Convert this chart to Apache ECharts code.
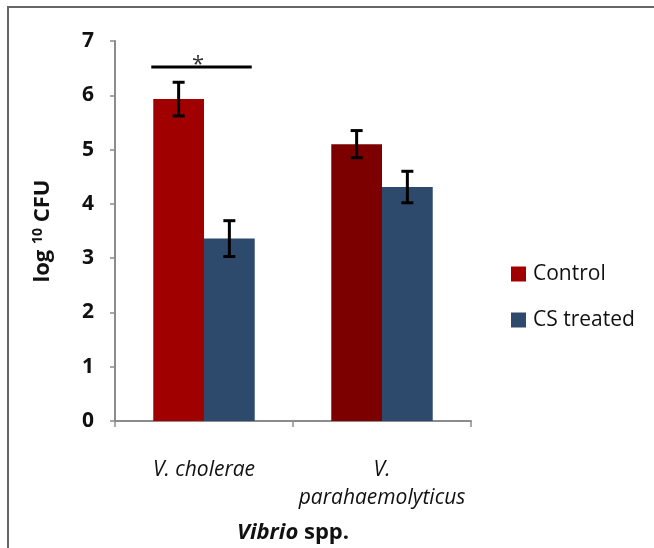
<!DOCTYPE html>
<html><head><meta charset="utf-8">
<script src="https://cdn.jsdelivr.net/npm/echarts@6/dist/echarts.min.js"></script>
<style>
html,body{margin:0;padding:0;background:#fff;overflow:hidden;width:654px;height:548px}
#c{width:654px;height:548px;position:absolute;left:0;top:0}
#frame{position:absolute;left:7px;top:6px;width:660px;height:560px;border-left:2px solid #666;border-top:2px solid #666;pointer-events:none}
</style></head><body>
<div id="c"></div>
<div id="frame"></div>
<script>
// ---- data ----
const categories = ['V. cholerae', 'V.\nparahaemolyticus'];
const seriesNames = ['Control', 'CS treated'];
const controlValues = [5.93, 5.10];
const csValues = [3.36, 4.31];
const controlErr = [0.31, 0.25];
const csErr = [0.33, 0.29];
const yMin = 0, yMax = 7, yInterval = 1;
const sigCategory = 0;
const sigLevel = 6.52;
const sigLabel = '*';

// ---- styling ----
const GAP = 0.43;
const FONT = '"Open Sans", sans-serif';
const controlColors = ['#a00000', '#7c0000'];
const csColor = '#2d4a6d';

function errRender(sign) {
  return function (params, api) {
    const ci = api.value(0), v = api.value(1), e = api.value(2);
    const catW = api.size([1, 0])[0];
    const bw = catW * (1 - GAP) / 2;
    const x = api.coord([ci, v])[0] + sign * bw / 2;
    const yT = api.coord([ci, v + e])[1];
    const yB = api.coord([ci, v - e])[1];
    const cap = 6;
    const st = { stroke: '#000', lineWidth: 3 };
    return { type: 'group', children: [
      { type: 'line', shape: { x1: x, y1: yT, x2: x, y2: yB }, style: st },
      { type: 'line', shape: { x1: x - cap, y1: yT, x2: x + cap, y2: yT }, style: st },
      { type: 'line', shape: { x1: x - cap, y1: yB, x2: x + cap, y2: yB }, style: st }
    ]};
  };
}

function sigRender(params, api) {
  const ci = api.value(0), v = api.value(1);
  const catW = api.size([1, 0])[0];
  const bw = catW * (1 - GAP) / 2;
  const p = api.coord([ci, v]);
  return { type: 'group', children: [
    { type: 'line', shape: { x1: p[0] - bw - 2, y1: p[1], x2: p[0] + bw - 3, y2: p[1] },
      style: { stroke: '#000', lineWidth: 3 } },
    { type: 'text', x: p[0] - 6, y: p[1] - 2,
      style: { text: sigLabel, fill: '#333', font: '22px ' + FONT, align: 'center', verticalAlign: 'middle' } }
  ]};
}

const chart = echarts.init(document.getElementById('c'));
chart.setOption({
  animation: false,
  backgroundColor: 'transparent',
  grid: { left: 115, right: 183, top: 41, bottom: 127, containLabel: false, outerBoundsMode: 'none' },
  legend: {
    data: seriesNames, orient: 'vertical', left: 506, top: 256,
    itemWidth: 15, itemHeight: 15, itemGap: 20, icon: 'rect',
    textStyle: { fontFamily: FONT, fontSize: 21, color: '#111', lineHeight: 26, padding: [0, 0, 0, 2] }
  },
  xAxis: {
    type: 'category', data: categories,
    name: '{i|Vibrio}{b| spp.}', nameLocation: 'middle', nameGap: 101,
    nameTextStyle: { rich: {
      i: { fontFamily: FONT, fontSize: 22, fontWeight: 'bold', fontStyle: 'italic', color: '#111' },
      b: { fontFamily: FONT, fontSize: 22, fontWeight: 'bold', color: '#111' } } },
    axisLine: { lineStyle: { color: '#8c8c8c', width: 2 } },
    axisTick: { show: true, length: 6, lineStyle: { color: '#8c8c8c', width: 1.5 } },
    axisLabel: { margin: 35, fontFamily: FONT, fontSize: 21, fontStyle: 'italic', color: '#111', lineHeight: 28, interval: 0 }
  },
  yAxis: {
    type: 'value', min: yMin, max: yMax, interval: yInterval,
    name: '{b|log }{s|10}{b| CFU}', nameLocation: 'middle', nameGap: 60,
    nameTextStyle: { rich: {
      b: { fontFamily: FONT, fontSize: 22, fontWeight: 'bold', color: '#111' },
      s: { fontFamily: FONT, fontSize: 14, fontWeight: 'bold', color: '#111', verticalAlign: 'top', padding: [0, 0, 10, 0] } } },
    axisLine: { show: true, lineStyle: { color: '#8c8c8c', width: 2 } },
    axisTick: { show: true, length: 5, lineStyle: { color: '#8c8c8c', width: 1.5 } },
    splitLine: { show: false },
    axisLabel: { margin: 21, fontFamily: FONT, fontSize: 21, fontWeight: 'bold', color: '#111' }
  },
  series: [
    { name: seriesNames[0], type: 'bar', barGap: '0%', barCategoryGap: (GAP * 100) + '%',
      itemStyle: { color: controlColors[0] },
      data: controlValues.map((v, i) => ({ value: v, itemStyle: { color: controlColors[i] } })) },
    { name: seriesNames[1], type: 'bar', barGap: '0%', barCategoryGap: (GAP * 100) + '%',
      itemStyle: { color: csColor }, data: csValues },
    { type: 'custom', renderItem: errRender(-1), z: 10,
      data: controlValues.map((v, i) => [i, v, controlErr[i]]) },
    { type: 'custom', renderItem: errRender(1), z: 10,
      data: csValues.map((v, i) => [i, v, csErr[i]]) },
    { type: 'custom', renderItem: sigRender, z: 10, data: [[sigCategory, sigLevel]] }
  ]
});
</script>
</body></html>
